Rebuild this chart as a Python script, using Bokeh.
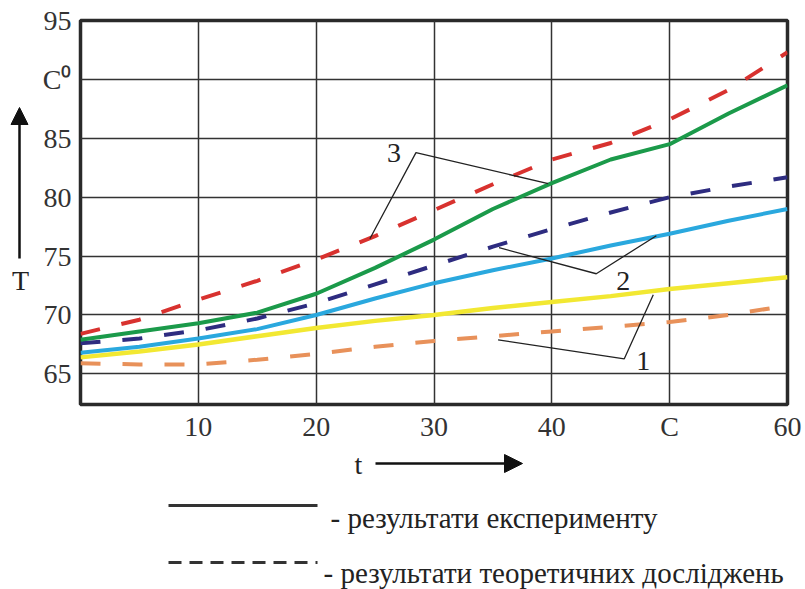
from bokeh.plotting import figure
from bokeh.models import Range1d, Label, Arrow, NormalHead, FixedTicker
from bokeh.layouts import row, column
from bokeh.embed import file_html
from bokeh.resources import INLINE

# ---- data ----
t = [0, 5, 10, 15, 20, 25, 30, 35, 40, 45, 50, 55, 60]
theory3 = [68.4, 69.6, 71.3, 72.9, 74.7, 76.7, 78.9, 81.1, 83.2, 84.6, 86.6, 89.1, 92.3]
exp3 = [67.9, 68.6, 69.3, 70.2, 71.8, 74.0, 76.4, 79.0, 81.2, 83.2, 84.5, 87.1, 89.5]
theory2 = [67.6, 68.0, 68.7, 69.7, 71.0, 72.6, 74.2, 75.8, 77.3, 78.7, 80.0, 80.9, 81.7]
exp2 = [66.8, 67.3, 68.0, 68.8, 70.0, 71.4, 72.7, 73.8, 74.8, 75.9, 76.9, 78.0, 79.0]
exp1 = [66.4, 66.9, 67.5, 68.2, 68.9, 69.5, 70.0, 70.6, 71.1, 71.6, 72.2, 72.7, 73.2]
theory1 = [65.9, 65.8, 65.8, 66.2, 66.7, 67.3, 67.8, 68.2, 68.6, 69.0, 69.4, 70.0, 70.8]

x_ticks = [10, 20, 30, 40, 50, 60]
x_tick_labels = {50: "C"}
y_ticks = [65, 70, 75, 80, 85, 90, 95]
y_tick_labels = {90: "C\u2070"}

legend_texts = ["- результати експерименту", "- результати теоретичних досліджень"]
callout_labels = ["1", "2", "3"]

# callout leader lines (data units)
callout1_x = [35.44, 46.15, 48.61]
callout1_y = [67.89, 66.28, 71.71]
callout2_x = [35.52, 43.77, 48.87]
callout2_y = [75.71, 73.50, 76.73]
callout3_x = [24.56, 28.47, 39.69]
callout3_y = [76.47, 83.78, 81.15]
callout_label_pos = [(47.76, 66.1), (46.06, 72.9), (26.6, 83.78)]

SERIF = "Liberation Serif"
INK = "#2a2a2a"
TXT = "#222222"

LEFT_W = 34
TOP_B = 20
FRAME_H = 384
BOT_B = 42
MAIN_H = TOP_B + FRAME_H + BOT_B
TOTAL_W = 805
BOTTOM_H = 589 - MAIN_H


def blank(width, height, top=0, bottom=0):
    f = figure(width=width, height=height,
               x_range=Range1d(0, width), y_range=Range1d(height - bottom, top),
               x_axis_type=None, y_axis_type=None,
               min_border=0, min_border_left=0, min_border_right=0,
               min_border_top=top, min_border_bottom=bottom,
               output_backend="svg", toolbar_location=None)
    f.outline_line_color = None
    f.background_fill_color = "white"
    f.border_fill_color = "white"
    f.xgrid.visible = False
    f.ygrid.visible = False
    return f


# ---- main chart ----
p = figure(frame_width=707, frame_height=FRAME_H,
           x_range=Range1d(0, 60), y_range=Range1d(62.4, 95),
           min_border_left=80 - LEFT_W, min_border_right=18,
           min_border_top=TOP_B, min_border_bottom=BOT_B,
           output_backend="svg", toolbar_location=None)

p.background_fill_color = "white"
p.border_fill_color = "white"
p.outline_line_color = INK
p.outline_line_width = 3.5

for ax in (p.xaxis, p.yaxis):
    ax.axis_line_color = None
    ax.major_tick_line_color = None
    ax.minor_tick_line_color = None
    ax.major_tick_out = 0
    ax.major_tick_in = 0
    ax.major_label_text_font = SERIF
    ax.major_label_text_color = "#333333"
    ax.major_label_text_font_size = "28px"

p.xaxis.ticker = FixedTicker(ticks=x_ticks)
p.xaxis.major_label_overrides = x_tick_labels
p.xaxis.major_label_standoff = 6
p.yaxis.ticker = FixedTicker(ticks=y_ticks)
p.yaxis.major_label_overrides = y_tick_labels
p.yaxis.major_label_standoff = 9

p.xgrid.ticker = FixedTicker(ticks=x_ticks)
p.ygrid.ticker = FixedTicker(ticks=y_ticks)
for g in (p.xgrid, p.ygrid):
    g.grid_line_color = "#333333"
    g.grid_line_width = 1.5
    g.grid_line_alpha = 1.0

# curves
p.line(t, theory1, line_color="#e8915a", line_width=4, line_dash="20 22")
p.line(t, exp1, line_color="#f2e832", line_width=4.5)
p.line(t, exp2, line_color="#2aa8de", line_width=4)
p.line(t, theory2, line_color="#2e2c80", line_width=4, line_dash="20 22")
p.line(t, exp3, line_color="#1b9a4a", line_width=4)
p.line(t, theory3, line_color="#d8322f", line_width=4, line_dash="20 22")

# callout leader lines
for cx, cy in ((callout1_x, callout1_y), (callout2_x, callout2_y), (callout3_x, callout3_y)):
    p.line(cx, cy, line_color="#222222", line_width=1.3)
for lab, (lx, ly) in zip(callout_labels, callout_label_pos):
    p.add_layout(Label(x=lx, y=ly, text=lab, text_font=SERIF, text_font_size="28px",
                       text_color=TXT, text_align="center", text_baseline="middle"))

# ---- left strip: T arrow (page-pixel coordinates) ----
left = blank(LEFT_W, MAIN_H, top=TOP_B, bottom=BOT_B)
left.add_layout(Arrow(end=NormalHead(size=17, fill_color="#111111", line_color="#111111"),
                      x_start=19, y_start=258, x_end=19, y_end=107,
                      line_width=2.5, line_color="#111111"))
left.add_layout(Label(x=20, y=280, text="T", text_font=SERIF, text_font_size="28px",
                      text_color=TXT, text_align="center", text_baseline="middle"))

# ---- bottom strip: t arrow and legend (pixel coordinates from strip top) ----
Y0 = MAIN_H
bottom = blank(TOTAL_W, BOTTOM_H)
bottom.add_layout(Arrow(end=NormalHead(size=18, fill_color="#111111", line_color="#111111"),
                        x_start=375, y_start=463 - Y0, x_end=522, y_end=463 - Y0,
                        line_width=2.5, line_color="#111111"))
bottom.add_layout(Label(x=358, y=464 - Y0, text="t", text_font=SERIF, text_font_size="28px",
                        text_color=TXT, text_align="center", text_baseline="middle"))
bottom.add_layout(Arrow(end=None, x_start=168, y_start=505 - Y0, x_end=317, y_end=505 - Y0,
                        line_width=3, line_color="#333333"))
bottom.add_layout(Arrow(end=None, x_start=168, y_start=562 - Y0, x_end=317, y_end=562 - Y0,
                        line_width=3, line_color="#333333", line_dash="13 8"))
bottom.add_layout(Label(x=330, y=517 - Y0, text=legend_texts[0], text_font=SERIF,
                        text_font_size="29px", text_color=TXT,
                        text_align="left", text_baseline="middle"))
bottom.add_layout(Label(x=323, y=572 - Y0, text=legend_texts[1], text_font=SERIF,
                        text_font_size="29px", text_color=TXT,
                        text_align="left", text_baseline="middle"))

layout = column(row(left, p, spacing=0), bottom, spacing=0)
open("out.html", "w").write(file_html(layout, INLINE))
